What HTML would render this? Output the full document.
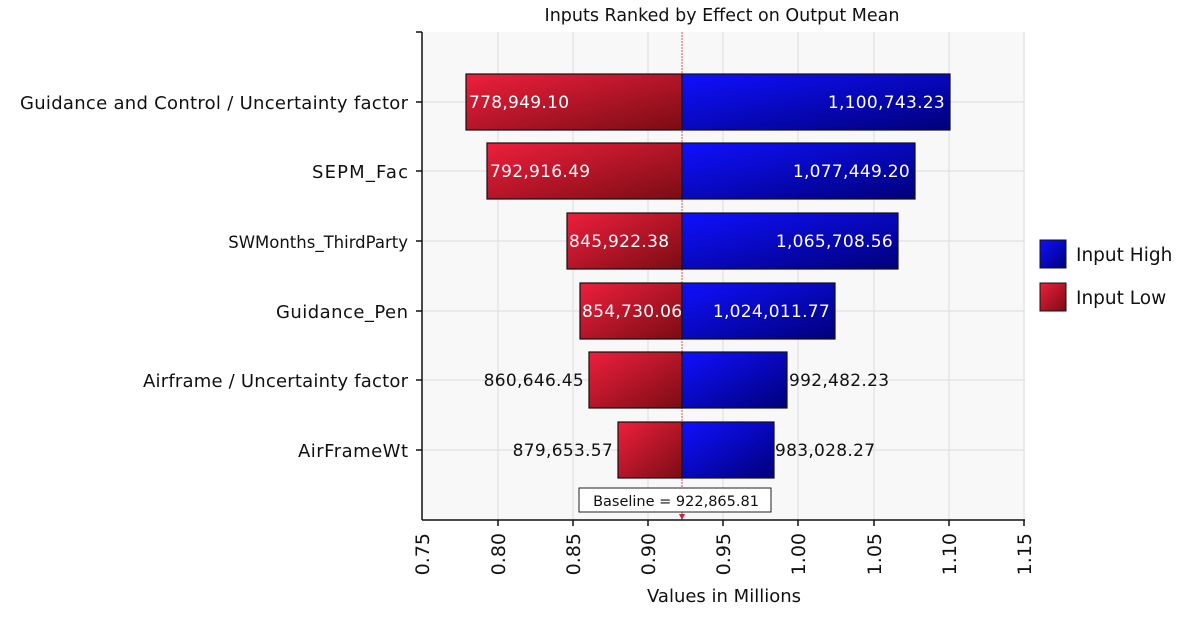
<!DOCTYPE html>
<html><head><meta charset="utf-8"><style>
body{margin:0;background:#fff}
svg text{font-family:"DejaVu Sans","Liberation Sans",sans-serif}
</style></head><body>
<svg width="1200" height="630" xmlns="http://www.w3.org/2000/svg">
<defs>
<linearGradient id="r" x1="0" y1="0" x2="1" y2="1"><stop offset="0" stop-color="#ee1f3c"/><stop offset="1" stop-color="#7a0c14"/></linearGradient>
<linearGradient id="b" x1="0" y1="0" x2="1" y2="1"><stop offset="0" stop-color="#1010ff"/><stop offset="1" stop-color="#00007a"/></linearGradient>
</defs>
<text x="722" y="21" font-size="17.5" text-anchor="middle" fill="#111">Inputs Ranked by Effect on Output Mean</text>
<rect x="422" y="32" width="603" height="488" fill="#f8f8f8"/>
<g stroke="#dcdcdc" stroke-width="1">
<line x1="498" y1="32" x2="498" y2="520"/><line x1="573" y1="32" x2="573" y2="520"/><line x1="648" y1="32" x2="648" y2="520"/><line x1="723" y1="32" x2="723" y2="520"/><line x1="798" y1="32" x2="798" y2="520"/><line x1="874" y1="32" x2="874" y2="520"/><line x1="949" y1="32" x2="949" y2="520"/><line x1="1024" y1="32" x2="1024" y2="520"/>
<line x1="422" y1="102" x2="1025" y2="102"/><line x1="422" y1="171" x2="1025" y2="171"/><line x1="422" y1="241" x2="1025" y2="241"/><line x1="422" y1="311" x2="1025" y2="311"/><line x1="422" y1="380" x2="1025" y2="380"/><line x1="422" y1="450" x2="1025" y2="450"/>
</g>
<line x1="682" y1="32" x2="682" y2="520" stroke="#e05060" stroke-width="1" stroke-dasharray="2,1"/>
<g stroke="#111" stroke-width="1.2">
<rect x="466" y="74" width="216" height="56" fill="url(#r)"/><rect x="682" y="74" width="268" height="56" fill="url(#b)"/>
<rect x="487" y="143" width="195" height="56" fill="url(#r)"/><rect x="682" y="143" width="233" height="56" fill="url(#b)"/>
<rect x="567" y="213" width="115" height="56" fill="url(#r)"/><rect x="682" y="213" width="216" height="56" fill="url(#b)"/>
<rect x="580" y="283" width="102" height="56" fill="url(#r)"/><rect x="682" y="283" width="153" height="56" fill="url(#b)"/>
<rect x="589" y="352" width="93" height="56" fill="url(#r)"/><rect x="682" y="352" width="105" height="56" fill="url(#b)"/>
<rect x="618" y="422" width="64" height="56" fill="url(#r)"/><rect x="682" y="422" width="92" height="56" fill="url(#b)"/>
</g>
<g font-size="17" fill="#fff" letter-spacing="0.3">
<text x="469" y="108">778,949.10</text><text x="945" y="108" text-anchor="end">1,100,743.23</text>
<text x="490" y="177">792,916.49</text><text x="910" y="177" text-anchor="end">1,077,449.20</text>
<text x="569" y="247">845,922.38</text><text x="893" y="247" text-anchor="end">1,065,708.56</text>
<text x="582" y="317">854,730.06</text><text x="830" y="317" text-anchor="end">1,024,011.77</text>
</g>
<g font-size="17" fill="#111" letter-spacing="0.3">
<text x="584" y="386" text-anchor="end">860,646.45</text><text x="789" y="386">992,482.23</text>
<text x="613" y="456" text-anchor="end">879,653.57</text><text x="775" y="456">983,028.27</text>
</g>
<rect x="579" y="488" width="192" height="24" fill="#fff" stroke="#222"/>
<text x="676" y="506" font-size="14.5" text-anchor="middle" fill="#111">Baseline = 922,865.81</text>
<path d="M679 514 L685 514 L682 520 Z" fill="#d02040"/>
<g stroke="#111" stroke-width="1.5">
<line x1="422" y1="32" x2="422" y2="520"/><line x1="416" y1="32" x2="422" y2="32"/><line x1="422" y1="520" x2="1025" y2="520"/>
<line x1="416" y1="102" x2="422" y2="102"/><line x1="416" y1="171" x2="422" y2="171"/><line x1="416" y1="241" x2="422" y2="241"/><line x1="416" y1="311" x2="422" y2="311"/><line x1="416" y1="380" x2="422" y2="380"/><line x1="416" y1="450" x2="422" y2="450"/>
<line x1="498" y1="520" x2="498" y2="526"/><line x1="573" y1="520" x2="573" y2="526"/><line x1="648" y1="520" x2="648" y2="526"/><line x1="723" y1="520" x2="723" y2="526"/><line x1="798" y1="520" x2="798" y2="526"/><line x1="874" y1="520" x2="874" y2="526"/><line x1="949" y1="520" x2="949" y2="526"/><line x1="1024" y1="520" x2="1024" y2="526"/>
</g>
<g font-size="18" fill="#111" text-anchor="end">
<text x="408" y="109" textLength="388">Guidance and Control / Uncertainty factor</text>
<text x="408" y="178" textLength="96">SEPM_Fac</text>
<text x="408" y="248" font-size="16.5">SWMonths_ThirdParty</text>
<text x="408" y="318" textLength="132">Guidance_Pen</text>
<text x="408" y="387" textLength="265">Airframe / Uncertainty factor</text>
<text x="408" y="457" textLength="110">AirFrameWt</text>
</g>
<g font-size="19" fill="#111" text-anchor="end">
<text transform="translate(429,533) rotate(-90)">0.75</text>
<text transform="translate(505,533) rotate(-90)">0.80</text>
<text transform="translate(580,533) rotate(-90)">0.85</text>
<text transform="translate(655,533) rotate(-90)">0.90</text>
<text transform="translate(730,533) rotate(-90)">0.95</text>
<text transform="translate(805,533) rotate(-90)">1.00</text>
<text transform="translate(881,533) rotate(-90)">1.05</text>
<text transform="translate(956,533) rotate(-90)">1.10</text>
<text transform="translate(1031,533) rotate(-90)">1.15</text>
</g>
<text x="724" y="602" font-size="18" text-anchor="middle" fill="#111">Values in Millions</text>
<rect x="1040" y="240" width="26" height="28" fill="url(#b)" stroke="#111"/>
<rect x="1040" y="283" width="26" height="28" fill="url(#r)" stroke="#111"/>
<text x="1076" y="261" font-size="18.5" fill="#111">Input High</text>
<text x="1076" y="304" font-size="18.5" fill="#111">Input Low</text>
</svg>
</body></html>
